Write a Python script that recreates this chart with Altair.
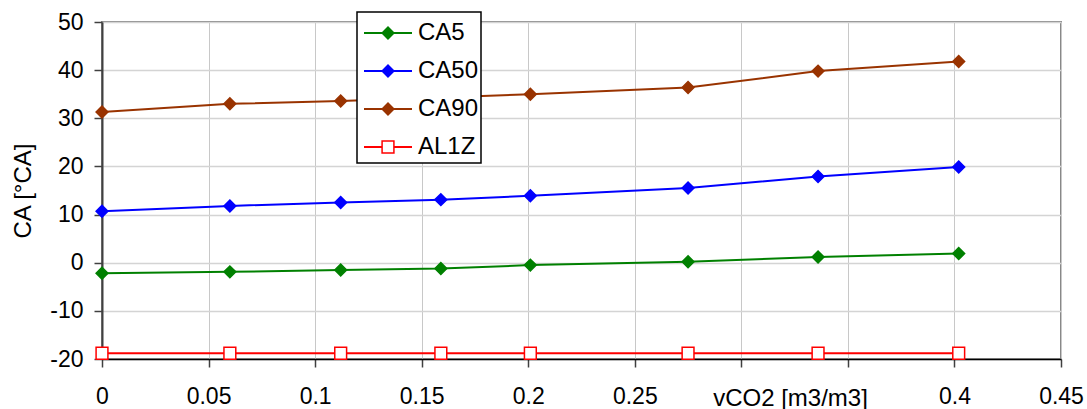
import altair as alt
import pandas as pd

# ---- data ----
x_vals = [0.0, 0.06, 0.112, 0.159, 0.201, 0.275, 0.336, 0.402]
ca5 = [-2.2, -1.9, -1.5, -1.2, -0.5, 0.2, 1.2, 1.9]
ca50 = [10.7, 11.8, 12.5, 13.1, 13.9, 15.5, 17.9, 19.9]
ca90 = [31.3, 33.0, 33.6, 34.3, 35.0, 36.4, 39.8, 41.8]
al1z = [-18.8, -18.8, -18.8, -18.8, -18.8, -18.8, -18.8, -18.8]

series_names = ["CA5", "CA50", "CA90", "AL1Z"]
line_colors = ["#008000", "#0000FF", "#993300", "#FF0000"]
fill_colors = ["#008000", "#0000FF", "#993300", "#FFFFFF"]
marker_shapes = ["diamond", "diamond", "diamond", "square"]

x_ticks = [0, 0.05, 0.1, 0.15, 0.2, 0.25, 0.3, 0.35, 0.4, 0.45]
y_ticks = [-20, -10, 0, 10, 20, 30, 40, 50]

rows = []
for name, vals in zip(series_names, [ca5, ca50, ca90, al1z]):
    for xv, yv in zip(x_vals, vals):
        rows.append({"series": name, "x": xv, "y": yv})
df = pd.DataFrame(rows)

FONT = "Liberation Sans"
LABEL_SIZE = 23
TITLE_SIZE = 24
MARK_SIZE = 140

# ---- legend layout (pixels, relative to the plot area) ----
LEG_LEFT, LEG_RIGHT, LEG_TOP, LEG_BOTTOM = 255, 379, -10, 141
LEG_ROW0, LEG_ROW_STEP = 11, 38
LEG_LINE_X1, LEG_LINE_X2, LEG_MARK_X, LEG_TEXT_X = 262, 310, 286, 316
legend_df = pd.DataFrame(
    {"series": series_names, "ly": [LEG_ROW0 + LEG_ROW_STEP * i for i in range(len(series_names))]}
)

color_scale = alt.Scale(domain=series_names, range=line_colors)
fill_scale = alt.Scale(domain=series_names, range=fill_colors)
shape_scale = alt.Scale(domain=series_names, range=marker_shapes)

x_enc = alt.X(
    "x:Q",
    scale=alt.Scale(domain=[0, 0.45], nice=False, zero=False),
    axis=alt.Axis(
        values=x_ticks,
        format="~g",
        labelExpr="abs(datum.value-0.3)<0.001 || abs(datum.value-0.35)<0.001 ? '' : datum.label",
        title="vCO2 [m3/m3]",
        titleX=688,
        titleY=46,
        titleAlign="center",
        titleBaseline="alphabetic",
        titleFontSize=TITLE_SIZE,
        titleFontWeight="normal",
        titleFont=FONT,
        titleColor="black",
        labelFontSize=LABEL_SIZE,
        labelFont=FONT,
        labelColor="black",
        labelPadding=18,
        labelFlush=False,
        domainColor="black",
        domainWidth=1.5,
        tickColor="#404040",
        tickSize=8,
        tickWidth=1.5,
        gridColor="#c8c8c8",
        gridWidth=1,
    ),
)
y_enc = alt.Y(
    "y:Q",
    scale=alt.Scale(domain=[-20, 50], nice=False, zero=False),
    axis=alt.Axis(
        values=y_ticks,
        labelExpr="toString(datum.value)",
        title="CA [°CA]",
        titleX=-79,
        titleBaseline="middle",
        titleFontSize=TITLE_SIZE,
        titleFontWeight="normal",
        titleFont=FONT,
        titleColor="black",
        labelFontSize=LABEL_SIZE,
        labelFont=FONT,
        labelColor="black",
        labelPadding=11,
        labelFlush=False,
        domainColor="#404040",
        domainWidth=2,
        tickColor="#404040",
        tickSize=8,
        tickWidth=1.5,
        gridColor="#d4d4d4",
        gridWidth=1.5,
    ),
)

lines = alt.Chart(df).mark_line(strokeWidth=2).encode(
    x=x_enc,
    y=y_enc,
    color=alt.Color("series:N", scale=color_scale, legend=None),
)

points = alt.Chart(df).mark_point(size=MARK_SIZE, strokeWidth=1.5, opacity=1).encode(
    x=x_enc,
    y=y_enc,
    fill=alt.Fill("series:N", scale=fill_scale, legend=None),
    stroke=alt.Stroke("series:N", scale=color_scale, legend=None),
    shape=alt.Shape("series:N", scale=shape_scale, legend=None),
)

# ---- hand-built legend box (Excel style: line + marker + label) ----
leg_box = alt.Chart(pd.DataFrame({"k": [0]})).mark_rect(
    fill="white", stroke="black", strokeWidth=1.5
).encode(
    x=alt.value(LEG_LEFT), x2=alt.value(LEG_RIGHT), y=alt.value(LEG_TOP), y2=alt.value(LEG_BOTTOM)
)
leg_lines = alt.Chart(legend_df).mark_rule(strokeWidth=2).encode(
    x=alt.value(LEG_LINE_X1),
    x2=alt.value(LEG_LINE_X2),
    y=alt.Y("ly:Q", scale=None),
    color=alt.Color("series:N", scale=color_scale, legend=None),
)
leg_marks = alt.Chart(legend_df).mark_point(size=MARK_SIZE, strokeWidth=1.5, opacity=1).encode(
    x=alt.value(LEG_MARK_X),
    y=alt.Y("ly:Q", scale=None),
    fill=alt.Fill("series:N", scale=fill_scale, legend=None),
    stroke=alt.Stroke("series:N", scale=color_scale, legend=None),
    shape=alt.Shape("series:N", scale=shape_scale, legend=None),
)
leg_text = alt.Chart(legend_df).mark_text(
    align="left", baseline="middle", fontSize=TITLE_SIZE, font=FONT, color="black"
).encode(
    x=alt.value(LEG_TEXT_X),
    y=alt.Y("ly:Q", scale=None),
    text="series:N",
)

chart = (
    alt.layer(lines, points, leg_box, leg_lines, leg_marks, leg_text)
    .properties(
        width=959,
        height=337,
        padding={"left": 102, "top": 22, "right": 26, "bottom": 50},
        autosize=alt.AutoSizeParams(type="none"),
        background="white",
    )
    .configure_view(stroke="#888888", strokeWidth=2)
)

chart.save("out.html", embed_options={"renderer": "svg", "actions": False})
